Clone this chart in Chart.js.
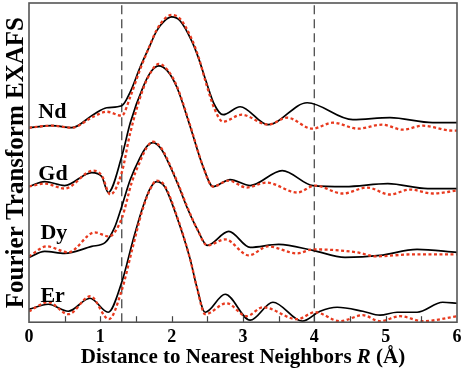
<!DOCTYPE html>
<html lang="en">
  <head>
    <meta charset="UTF-8" />
    <title>Fourier Transform EXAFS</title>
    <script src="https://cdn.jsdelivr.net/npm/chart.js"></script>
    <style>
      body {
        margin: 0;
        background: white;
      }
      canvas {
        display: block;
      }
    </style>
  </head>
  <body>
    <canvas id="exafs" width="463" height="370"></canvas>

    <script>
      // R values (Å) and FT magnitudes (offset, arbitrary units)
      const ndExpR = [0, 0.32, 0.6, 0.9, 1.09, 1.3, 1.42, 1.56, 1.68, 1.79, 1.9, 2.0, 2.12, 2.28, 2.38, 2.48, 2.6, 2.72, 2.96, 3.35, 3.9, 4.54, 5.06, 5.66, 6];
      const ndExp = [195, 197, 195, 208, 215, 217, 231, 256, 275, 292, 302, 306, 302, 282, 264, 242, 218, 208, 216, 198, 220, 203, 205, 200, 200];
      const ndFitR = [0, 0.32, 0.6, 0.9, 1.09, 1.3, 1.42, 1.56, 1.68, 1.79, 1.9, 2.0, 2.12, 2.28, 2.38, 2.48, 2.6, 2.72, 2.98, 3.35, 3.62, 3.97, 4.26, 4.61, 4.95, 5.24, 5.52, 5.94, 6];
      const ndFit = [195, 197, 195, 206, 211, 207, 226, 254, 275, 293, 304, 308, 304, 284, 265, 240, 214, 201, 208, 198, 205, 194, 200, 194, 198, 193, 197, 192, 192];

      const gdExpR = [0, 0.22, 0.5, 0.88, 1.02, 1.11, 1.3, 1.42, 1.6, 1.72, 1.82, 1.94, 2.07, 2.26, 2.44, 2.58, 2.82, 3.1, 3.55, 3.98, 4.43, 5.03, 5.59, 6];
      const gdExp = [136, 141, 137, 150, 146, 130, 166, 200, 236, 252, 257, 252, 236, 196, 156, 136, 143, 137, 152, 137, 136, 139, 134, 134];
      const gdFitR = [0, 0.22, 0.5, 0.9, 1.02, 1.14, 1.3, 1.42, 1.6, 1.72, 1.82, 1.94, 2.07, 2.26, 2.44, 2.58, 2.8, 3.05, 3.33, 3.76, 4.01, 4.4, 4.74, 5.06, 5.34, 5.66, 6];
      const gdFit = [136, 139, 134, 152, 147, 128, 150, 190, 234, 252, 259, 253, 237, 197, 156, 136, 142, 135, 140, 130, 137, 129, 135, 128, 133, 129, 132];

      const dyExpR = [0, 0.22, 0.5, 0.88, 1.07, 1.2, 1.3, 1.42, 1.55, 1.65, 1.74, 1.86, 1.98, 2.1, 2.21, 2.36, 2.5, 2.8, 3.1, 3.5, 3.98, 4.43, 4.92, 5.44, 6];
      const dyExp = [65, 71, 69, 76, 80, 95, 116, 143, 164, 176, 180, 173, 156, 136, 116, 93, 77, 91, 75, 78, 72, 65, 67, 73, 70];
      const dyFitR = [0, 0.25, 0.55, 0.92, 1.12, 1.3, 1.44, 1.55, 1.65, 1.74, 1.86, 1.98, 2.1, 2.21, 2.36, 2.5, 2.75, 3.08, 3.35, 3.76, 3.98, 4.6, 4.86, 5.37, 6];
      const dyFit = [66, 76, 70, 90, 86, 104, 140, 160, 175, 181, 174, 157, 137, 117, 93, 77, 83, 67, 76, 69, 73, 70, 66, 68, 68];

      const erExpR = [0, 0.27, 0.55, 0.855, 1.11, 1.3, 1.45, 1.58, 1.69, 1.79, 1.9, 2.07, 2.26, 2.35, 2.47, 2.75, 3.1, 3.42, 3.83, 4.08, 4.32, 4.68, 4.92, 5.16, 5.44, 5.8, 6];
      const erExp = [13, 18, 11, 24, 10, 40, 80, 112, 133, 141, 136, 106, 63, 36, 10, 28, 2, 20, 1, 11, 15, 11, 7, 10, 10, 20, 19];
      const erFitR = [0, 0.27, 0.55, 0.86, 1.12, 1.3, 1.45, 1.58, 1.69, 1.79, 1.9, 2.07, 2.26, 2.35, 2.47, 2.77, 3.05, 3.28, 3.76, 4.01, 4.36, 4.68, 4.92, 5.2, 5.52, 6];
      const erFit = [11, 20, 8, 26, 3, 32, 74, 110, 132, 142, 137, 107, 63, 36, 8, 19, 6, 15, 3, 10, 1, 7, 1, 6, 1, 6];

      // fitting window limits
      const windowR = [1.3, 4];
      const yRange = [0, 320];

      const elements = ["Nd", "Gd", "Dy", "Er"];
      const labelAt = [[0.13, 205], [0.13, 143], [0.16, 83], [0.16, 20]];

      const serif = "'Liberation Serif', 'Times New Roman', serif";
      const toPoints = (xs, ys) => xs.map((x, i) => ({ x, y: ys[i] }));

      const expSets = [[ndExpR, ndExp], [gdExpR, gdExp], [dyExpR, dyExp], [erExpR, erExp]];
      const fitSets = [[ndFitR, ndFit], [gdFitR, gdFit], [dyFitR, dyFit], [erFitR, erFit]];

      const datasets = [];
      expSets.forEach(([xs, ys], i) => {
        datasets.push({
          label: elements[i] + " data",
          data: toPoints(xs, ys),
          showLine: true,
          borderColor: "#000",
          borderWidth: 1.7,
          pointRadius: 0,
          cubicInterpolationMode: "monotone",
          order: 2,
        });
      });
      fitSets.forEach(([xs, ys], i) => {
        datasets.push({
          label: elements[i] + " fit",
          data: toPoints(xs, ys),
          showLine: true,
          borderColor: "#e8391e",
          borderWidth: 2.3,
          borderDash: [3, 2.5],
          pointRadius: 0,
          cubicInterpolationMode: "monotone",
          order: 1,
        });
      });
      windowR.forEach((r) => {
        datasets.push({
          label: "window",
          data: [{ x: r, y: yRange[0] }, { x: r, y: yRange[1] }],
          showLine: true,
          borderColor: "#555",
          borderWidth: 1.4,
          borderDash: [9, 5],
          pointRadius: 0,
          order: 3,
        });
      });

      const decorations = {
        id: "decorations",
        afterDraw(chart) {
          const { ctx, chartArea: a, scales } = chart;
          ctx.save();

          // inward ticks on the bottom axis
          ctx.strokeStyle = "#444";
          ctx.lineWidth = 1.2;
          for (let v = 0.5; v < 6; v += 0.5) {
            const px = Math.round(scales.x.getPixelForValue(v)) + 0.5;
            ctx.beginPath();
            ctx.moveTo(px, a.bottom);
            ctx.lineTo(px, a.bottom - 6);
            ctx.stroke();
          }

          // frame
          ctx.strokeStyle = "#555";
          ctx.lineWidth = 1.6;
          ctx.strokeRect(a.left, a.top, a.right - a.left, a.bottom - a.top);

          // element labels
          ctx.fillStyle = "#000";
          ctx.font = "bold 22px " + serif;
          ctx.textBaseline = "alphabetic";
          ctx.textAlign = "left";
          elements.forEach((el, i) => {
            ctx.fillText(el, scales.x.getPixelForValue(labelAt[i][0]), scales.y.getPixelForValue(labelAt[i][1]));
          });

          // x title with italic R
          const parts = [
            ["Distance to Nearest Neighbors ", "bold 21px " + serif],
            ["R", "italic bold 21px " + serif],
            [" (Å)", "bold 21px " + serif],
          ];
          let total = 0;
          parts.forEach(([t, f]) => {
            ctx.font = f;
            total += ctx.measureText(t).width;
          });
          let x = (a.left + a.right) / 2 - total / 2;
          parts.forEach(([t, f]) => {
            ctx.font = f;
            ctx.fillText(t, x, 363);
            x += ctx.measureText(t).width;
          });

          // y title
          ctx.translate(23, (a.top + a.bottom) / 2);
          ctx.rotate(-Math.PI / 2);
          ctx.textAlign = "center";
          ctx.font = "bold 25px " + serif;
          ctx.fillText("Fourier Transform EXAFS", 0, 0);
          ctx.restore();
        },
      };

      new Chart(document.getElementById("exafs"), {
        type: "scatter",
        data: { datasets },
        options: {
          responsive: false,
          animation: false,
          events: [],
          layout: { padding: { left: 29, right: 6, top: 3, bottom: 17 } },
          plugins: {
            legend: { display: false },
            tooltip: { enabled: false },
          },
          scales: {
            x: {
              type: "linear",
              min: 0,
              max: 6,
              ticks: {
                stepSize: 1,
                color: "#000",
                padding: 1,
                maxRotation: 0,
                font: { family: serif, size: 18, weight: "bold", lineHeight: 1.6 },
              },
              grid: { display: false, drawTicks: false, tickLength: 0 },
              border: { display: false },
            },
            y: {
              display: false,
              min: yRange[0],
              max: yRange[1],
            },
          },
        },
        plugins: [decorations],
      });
    </script>
  </body>
</html>
